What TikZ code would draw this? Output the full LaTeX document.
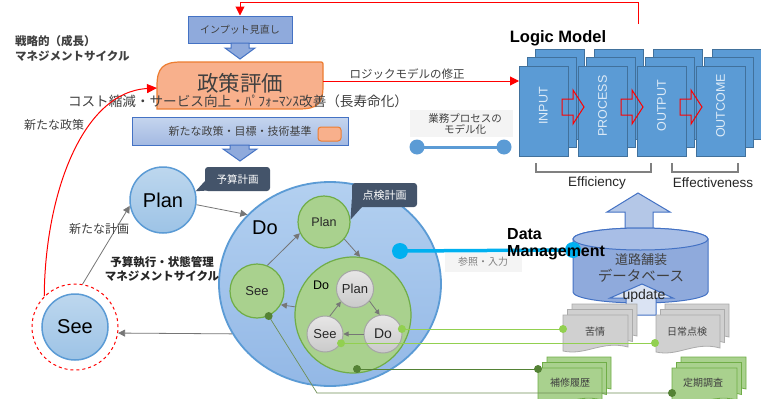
\documentclass[tikz,border=0pt]{standalone}
\usepackage{fontspec}
\setmainfont{Liberation Sans}
\newfontfamily\jp{Noto Sans CJK JP}
\usetikzlibrary{arrows.meta,shapes.geometric,calc}
\definecolor{tcol}{HTML}{404040}
\definecolor{lmblue}{HTML}{5B9BD5}
\definecolor{lmborder}{HTML}{41719C}
\definecolor{lmtxt}{HTML}{DEEBF7}
\definecolor{bbord}{HTML}{4472C4}
\definecolor{bfill}{HTML}{8FAADC}
\definecolor{bfilllight}{HTML}{B4C7E7}
\definecolor{upfill}{HTML}{DAE3F3}
\definecolor{dbfill}{HTML}{8FAADC}
\definecolor{dbtop}{HTML}{A8BEE6}
\definecolor{orfill}{HTML}{F8B08C}
\definecolor{orbord}{HTML}{ED7D31}
\definecolor{cbA}{HTML}{BDD7EE}
\definecolor{cbB}{HTML}{9DC3E6}
\definecolor{cbord}{HTML}{5B9BD5}
\definecolor{nbA}{HTML}{C5D5EE}
\definecolor{nbB}{HTML}{A3B9E2}
\definecolor{bigA}{HTML}{B3D0F0}
\definecolor{bigB}{HTML}{93B8E6}
\definecolor{gfill}{HTML}{A9D18E}
\definecolor{gbord}{HTML}{70AD47}
\definecolor{grA}{HTML}{E7E6E6}
\definecolor{grB}{HTML}{CACACA}
\definecolor{grbord}{HTML}{A6A6A6}
\definecolor{callout}{HTML}{44546A}
\definecolor{dmblue}{HTML}{00B0F0}
\definecolor{lgreen}{HTML}{92D050}
\definecolor{dgreen}{HTML}{548235}
\definecolor{mgreen}{HTML}{6F8F55}
\definecolor{docgray}{HTML}{D0D0D0}
\definecolor{docgrayb}{HTML}{ABABAB}
\definecolor{garrowc}{HTML}{767676}
\definecolor{faint}{HTML}{F4F4F4}
\newcommand\myfs[1]{\fontsize{#1}{#1}\selectfont}
\newcommand\docstack[6]{%
  \foreach \k in {2,1,0}{%
    \pgfmathsetmacro\xx{#1+4.5*\k}\pgfmathsetmacro\yy{#2-5.5*\k}%
    \draw[fill=#5, draw=#6, line width=0.8pt] (\xx,\yy) -- ({\xx+#3},\yy) -- ({\xx+#3},{\yy+#4-4}) .. controls ({\xx+0.6*#3},{\yy+#4-11}) and ({\xx+0.35*#3},{\yy+#4+5}) .. (\xx,{\yy+#4}) -- cycle;
  }}
\newcommand\lmstack[3]{%
  \foreach \k in {2,1}{%
    \pgfmathsetmacro\xx{#2+8*\k}\pgfmathsetmacro\yy{66-8.5*\k}%
    \draw[fill=lmblue, draw=lmborder, line width=0.8pt] (\xx,\yy) rectangle ++(49,90);
  }
  \node[lmbox] (#1) at ({#2+24.5},111) {};
  \node[lmtext] at ({#2+24.5},106) {#3};}
\newcommand\hollowarrow[1]{%
  \draw[red, line width=1pt, line join=miter] (#1,99) -- ({#1+11},99) -- ({#1+11},90) -- ({#1+22},107) -- ({#1+11},124) -- ({#1+11},115) -- (#1,115) -- cycle;}
\begin{document}
\begin{tikzpicture}[x=1pt,y=-1pt,
  lmbox/.style={rectangle, fill=lmblue, draw=lmborder, line width=0.8pt, minimum width=49pt, minimum height=90pt, inner sep=0},
  lmtext/.style={rotate=90, text=lmtxt, font=\myfs{12.5}, inner sep=0},
  jtext/.style={text=tcol, inner sep=0},
  bluecirc/.style={circle, draw=cbord, line width=1.5pt, top color=cbA, bottom color=cbB, inner sep=0, text=black},
  greencirc/.style={circle, draw=gbord, line width=1.2pt, fill=gfill, inner sep=0, text=black!85},
  graycirc/.style={circle, draw=grbord, line width=1pt, top color=grA, bottom color=grB, inner sep=0, text=black!85},
  garrow/.style={draw=garrowc, line width=0.8pt, -{Triangle[length=7pt,width=7pt]}},
  callbox/.style={rectangle, rounded corners=3pt, fill=callout, text=white, inner sep=0, font=\jp\myfs{10.5}},
  redline/.style={draw=red, line width=1pt},
  blockarrow/.style={draw=bbord, line width=1pt, line join=miter},
]
\useasboundingbox (0,0) rectangle (761,399);
\fill[white] (0,0) rectangle (761,399);

% ---------- top-left labels
\node[anchor=west, jtext, font=\jp\bfseries\myfs{11.5}] (t1) at (15,41) {戦略的（成長）};
\node[anchor=west, jtext, font=\jp\bfseries\myfs{11.5}] (t2) at (15,56) {マネジメントサイクル};

% ---------- input review box
\node[draw=bbord, line width=1pt, fill=bfill, minimum width=104pt, minimum height=27pt, inner sep=0, font=\jp\myfs{10}, text=tcol] (inp) at (240,29.5) {インプット見直し};
\draw[blockarrow, fill=bfill] (231,43) -- (249,43) -- (249,48) -- (255,48) -- (240,59) -- (225,48) -- (231,48) -- cycle;

% ---------- policy evaluation
\draw[fill=orfill, draw=orbord, line width=1.2pt] (157,109) -- (157,86) .. controls (157,68) and (163,62) .. (181,62) -- (319,62) .. controls (323,62) .. (323,66) -- (323,86) .. controls (323,104) and (317,109) .. (299,109) -- cycle;
\node[inner sep=0, minimum width=166pt, minimum height=47pt] (pe) at (240,85.5) {};
\node[jtext, font=\jp\myfs{21.5}] (pet) at (240,83) {政策評価};
\node[jtext, font=\jp\myfs{13.6}] (cost) at (238,101.5) {コスト縮減・サービス向上・ﾊﾟﾌｫｰﾏﾝｽ改善（長寿命化）};
\node[jtext, font=\jp\myfs{12}] (np) at (54,125) {新たな政策};

% ---------- new policy box
\node[draw=bbord, line width=1pt, top color=nbA, bottom color=nbB, minimum width=216pt, minimum height=28pt, inner sep=0] (npb) at (240,131) {};
\node[jtext, font=\jp\myfs{11}] (npt) at (240,131) {新たな政策・目標・技術基準};
\draw[fill=orfill, draw=orbord, line width=1pt, rounded corners=3pt] (318,127) rectangle (341,141);
\draw[blockarrow, fill=bfill] (230,145) -- (249,145) -- (249,149) -- (257,149) -- (240,161) -- (223,149) -- (230,149) -- cycle;

% ---------- top red feedback line
\coordinate (rtop) at (638,24);
\draw[redline, -{Triangle[length=9pt,width=9pt]}] (rtop) -- ++(0,-22) -| (inp.north);

% ---------- logic model
\node[font=\bfseries\myfs{16.5}, inner sep=0] (lmt) at (558,38) {Logic Model};
\lmstack{lmin}{519}{INPUT}
\lmstack{lmpr}{578}{PROCESS}
\lmstack{lmou}{637}{OUTPUT}
\lmstack{lmoc}{696}{OUTCOME}
\hollowarrow{562}
\hollowarrow{621}
\hollowarrow{680}
\coordinate (peR) at (323,81);
\coordinate (inL) at (519,81);
\draw[redline, -{Triangle[length=9pt,width=9pt]}] (peR) -- (inL);
\node[jtext, font=\jp\myfs{11.5}] (lmfix) at (407,74) {ロジックモデルの修正};

\draw[draw=gray, line width=1.2pt] (536,163) -- (536,172) -- (651,172) -- (651,163);
\draw[draw=gray, line width=1.2pt] (672,163) -- (672,172) -- (738,172) -- (738,163);
\node[inner sep=0, font=\myfs{13.5}, text=black!85] (eff) at (597,183) {Efficiency};
\node[inner sep=0, font=\myfs{13.5}, text=black!85] (effv) at (713,183) {Effectiveness};

% business process modelling
\fill[faint] (410,110) rectangle (513,137);
\node[jtext, font=\jp\myfs{10.5}, align=center] (bpm) at (465,124) {業務プロセスの\\[1pt]モデル化};
\coordinate (bpL) at (417,147);
\coordinate (bpR) at (504,147);
\draw[draw=lmblue, line width=3pt] (bpL) -- (bpR);
\fill[lmblue] (bpL) circle (7.5);
\fill[lmblue] (bpR) circle (7.5);

% ---------- PDCA circles
\node[bluecirc, minimum size=66pt, font=\myfs{20}] (plan1) at (163,200) {Plan};
\node[callbox, minimum width=65pt, minimum height=24pt] (cb1) at (237.5,179) {予算計画};
\fill[callout] (cb1.south west) ++(0,-10) -- ++(8,9) -- (plan1.15) -- cycle;

\node[circle, draw=red, dashed, line width=1pt, minimum size=86pt, inner sep=0] (seeD) at (75,327) {};
\node[bluecirc, minimum size=66pt, font=\myfs{20}] (see1) at (75,327) {See};

\node[ellipse, draw=cbord, line width=1.8pt, top color=bigA, bottom color=bigB, minimum width=222pt, minimum height=204pt, inner sep=0] (bigdo) at (330,284) {};
\node[inner sep=0, font=\myfs{20}] (dol) at (265,228) {Do};

\node[greencirc, minimum size=52pt, font=\myfs{12.5}] (gplan) at (324,222) {Plan};
\node[callbox, minimum width=65pt, minimum height=24pt, font=\jp\myfs{11}] (cb2) at (384.5,195) {点検計画};
\fill[callout] (cb2.south west) ++(0,-8) -- ++(10,8) -- (gplan.5) -- cycle;
\node[greencirc, minimum size=54pt, font=\myfs{13}] (gsee) at (257,291) {See};
\node[greencirc, minimum size=116pt] (gdo) at (353,315) {};
\node[inner sep=0, font=\myfs{12.5}] (gdol) at (321,285) {Do};

\node[graycirc, minimum size=37pt, font=\myfs{13}] (pplan) at (355,289) {Plan};
\node[graycirc, minimum size=36pt, font=\myfs{13}] (psee) at (325,334) {See};
\node[graycirc, minimum size=38pt, font=\myfs{14}] (pdo) at (383,334) {Do};

% arrows
\draw[garrow] (seeD.80) -- (plan1.190);
\draw[garrow] (plan1.-8) -- (bigdo.140);
\draw[garrow] (bigdo.207) -- (seeD.-8);
\draw[garrow, -{Triangle[length=6pt,width=6pt]}] (gsee.68) -- (gplan.205);
\draw[garrow, -{Triangle[length=6pt,width=6pt]}] (gplan.-40) -- (gdo.83);
\draw[garrow, -{Triangle[length=6pt,width=6pt]}] (gdo.172) -- (gsee.-30);
\draw[garrow, -{Triangle[length=5pt,width=5pt]}] (psee.75) -- (pplan.222);
\draw[garrow, -{Triangle[length=5pt,width=5pt]}] (pplan.-40) -- (pdo.100);
\draw[garrow, -{Triangle[length=5pt,width=5pt]}] (pdo.180) -- (psee.0);

\node[jtext, font=\jp\myfs{12}] (nplan) at (99,229) {新たな計画};
\node[jtext, font=\jp\bfseries\myfs{11.5}, text=black!85] (bud1) at (162,262) {予算執行・状態管理};
\node[jtext, font=\jp\bfseries\myfs{11.5}, text=black!85] (bud2) at (162,276) {マネジメントサイクル};

% red curve from See to policy evaluation
\coordinate (peL) at (157,88);
\draw[redline, -{Triangle[length=10pt,width=9pt]}] (seeD.135) .. controls (45,195) and (82,92) .. (peL);

% ---------- database
\draw[blockarrow, fill=bfilllight] (625,235) -- (625,212) -- (607,212) -- (638,193) -- (670,212) -- (653,212) -- (653,235) -- cycle;
\draw[fill=dbfill, draw=bbord, line width=1pt] (573,239) -- (573,292) arc[start angle=180, end angle=0, x radius=67.5, y radius=11] -- (708,239) arc[start angle=0, end angle=-180, x radius=67.5, y radius=11] -- cycle;
\draw[fill=dbtop, draw=bbord, line width=1pt] (640.5,239) ellipse [x radius=67.5, y radius=11];
\node[inner sep=0, minimum width=135pt, minimum height=75pt] (db) at (640.5,265) {};
\node[jtext, font=\jp\myfs{13}] (dbt1) at (641,260) {道路舗装};
\node[jtext, font=\jp\myfs{14.5}] (dbt2) at (641,276) {データベース};
\draw[blockarrow, fill=upfill] (626,315) -- (626,298) -- (610,298) -- (642,284) -- (673,298) -- (656,298) -- (656,315) -- cycle;
\node[inner sep=0, font=\myfs{14}, text=black!85] (upd) at (644,296) {update};

% data management connector
\coordinate (dmL) at (400,251);
\coordinate (dmR) at (573,250);
\fill[faint] (445,253) rectangle (522,272);
\node[jtext, font=\jp\myfs{10}, text=gray] (ref) at (483,262) {参照・入力};
\draw[draw=dmblue, line width=3.5pt] (dmL) -- (dmR);
\fill[dmblue] (dmL) circle (8);
\fill[dmblue] (dmR) circle (8);
\node[anchor=west, inner sep=0, font=\bfseries\myfs{16}] (dm1) at (507,234) {Data};
\node[anchor=west, inner sep=0, font=\bfseries\myfs{16}] (dm2) at (507,253) {Management};

% ---------- documents
\docstack{563}{315}{65}{36}{docgray}{docgrayb}
\node[jtext, font=\jp\myfs{10}] (kujo) at (595,332) {苦情};
\docstack{656}{315}{64}{37}{docgray}{docgrayb}
\node[jtext, font=\jp\myfs{10}] (nichi) at (687,332) {日常点検};
\docstack{538}{368}{64}{36}{gfill}{gbord}
\node[jtext, font=\jp\myfs{10}] (hosyu) at (570,383) {補修履歴};
\docstack{672}{368}{65}{36}{gfill}{gbord}
\node[jtext, font=\jp\myfs{10}] (teiki) at (703,383) {定期調査};

% ---------- green data lines
\coordinate (a1) at (pdo.15);
\coordinate (a2) at (563,329);
\coordinate (b1) at (psee.-30);
\coordinate (b2) at (655,343);
\coordinate (c1) at (357,369);
\coordinate (c2) at (538,369);
\coordinate (e1) at (gsee.-65);
\coordinate (e2) at (317,393);
\coordinate (e3) at (672,393);
\draw[draw=lgreen, line width=0.8pt] (a1) -- (a1 -| a2) -- (a2);
\draw[draw=lgreen, line width=0.8pt] (b1) -- (b1 -| b2) -- (b2);
\draw[draw=dgreen, line width=0.7pt] (c1) -- (c2);
\draw[draw=mgreen, line width=0.7pt] (e1) -- (e2) -- (e3);
\foreach \p in {a1,a2,b1,b2}{\fill[lgreen] (\p) circle (4);}
\foreach \p in {c1,c2,e1,e3}{\fill[dgreen] (\p) circle (4);}
\end{tikzpicture}
\end{document}
